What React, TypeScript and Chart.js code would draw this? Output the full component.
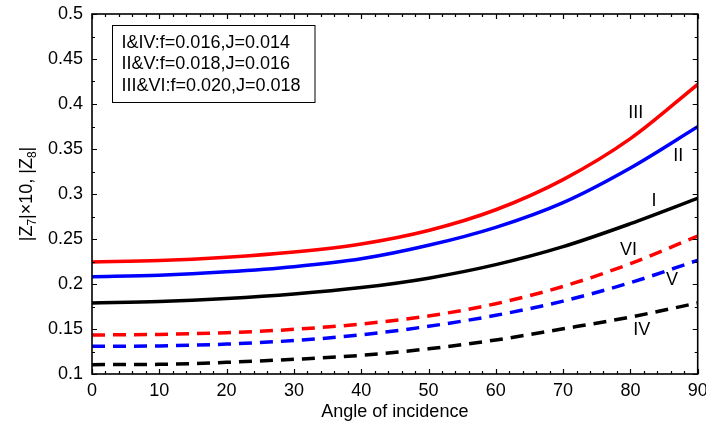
import React, { useEffect, useRef } from "react";
import { Chart, registerables } from "chart.js";

Chart.register(...registerables);

const angles = [0, 10, 20, 30, 40, 50, 60, 70, 80, 90];
const seriesI = [0.179, 0.1805, 0.1838, 0.1888, 0.196, 0.2065, 0.2215, 0.2415, 0.267, 0.2952];
const seriesII = [0.208, 0.2097, 0.2135, 0.2192, 0.228, 0.243, 0.263, 0.2905, 0.329, 0.3748];
const seriesIII = [0.2245, 0.226, 0.2297, 0.2355, 0.2445, 0.2595, 0.2825, 0.316, 0.3615, 0.4218];
const seriesIV = [0.1104, 0.1107, 0.113, 0.1163, 0.1207, 0.128, 0.1378, 0.1502, 0.1633, 0.1789];
const seriesV = [0.1307, 0.1312, 0.1332, 0.1372, 0.1435, 0.153, 0.1652, 0.181, 0.2015, 0.2263];
const seriesVI = [0.1433, 0.144, 0.1459, 0.1496, 0.1555, 0.1645, 0.1781, 0.1973, 0.2226, 0.2533];

const xTitle = "Angle of incidence";
const legendLines = ["I&IV:f=0.016,J=0.014", "II&V:f=0.018,J=0.016", "III&VI:f=0.020,J=0.018"];
const curveLabels = ["III", "II", "I", "VI", "V", "IV"];
const curveLabelX = [80.8, 87.1, 83.5, 79.7, 86.2, 81.7];
const curveLabelY = [0.39, 0.342, 0.292, 0.238, 0.204, 0.149];

const FONT = "'Liberation Sans', Arial, Helvetica, sans-serif";

const toPts = (vals: number[]) => vals.map((v, i) => ({ x: angles[i], y: v }));

const decorPlugin = {
  id: "decor",
  afterDatasetsDraw(chart: any) {
    const { ctx, chartArea: a, scales } = chart;
    const xs = scales.x;
    const ys = scales.y;
    ctx.save();
    ctx.strokeStyle = "#000";
    ctx.lineWidth = 1.2;
    ctx.beginPath();
    const major = 5;
    const minor = 3;
    for (let v = 0; v <= 90.0001; v += 2) {
      const px = Math.round(xs.getPixelForValue(v)) + 0.5;
      const len = Math.abs(v % 10) < 1e-6 ? major : minor;
      ctx.moveTo(px, a.bottom);
      ctx.lineTo(px, a.bottom - len);
      ctx.moveTo(px, a.top);
      ctx.lineTo(px, a.top + len);
    }
    for (let i = 0; i <= 16; i++) {
      const v = 0.1 + i * 0.025;
      const py = Math.round(ys.getPixelForValue(v)) + 0.5;
      const len = i % 2 === 0 ? major : minor;
      ctx.moveTo(a.left, py);
      ctx.lineTo(a.left + len, py);
      ctx.moveTo(a.right, py);
      ctx.lineTo(a.right - len, py);
    }
    ctx.stroke();
    ctx.lineWidth = 1.6;
    ctx.strokeRect(a.left, a.top, a.right - a.left, a.bottom - a.top);

    // curve labels
    ctx.fillStyle = "#000";
    ctx.font = `18px ${FONT}`;
    ctx.textAlign = "center";
    ctx.textBaseline = "middle";
    curveLabels.forEach((t, i) => {
      ctx.fillText(t, xs.getPixelForValue(curveLabelX[i]), ys.getPixelForValue(curveLabelY[i]));
    });

    // legend box
    ctx.fillStyle = "#fff";
    ctx.fillRect(112.5, 25, 202.5, 77.5);
    ctx.lineWidth = 1;
    ctx.strokeStyle = "#000";
    ctx.strokeRect(112.5, 25.5, 202.5, 77);
    ctx.fillStyle = "#000";
    ctx.textAlign = "left";
    ctx.textBaseline = "alphabetic";
    legendLines.forEach((t, i) => {
      ctx.fillText(t, 121.5, 47.7 + i * 21.7);
    });

    // y-axis title with subscripts
    const big = `18px ${FONT}`;
    const small = `12px ${FONT}`;
    const parts: [string, boolean][] = [
      ["|Z", false],
      ["7", true],
      ["|\u00d710, |Z", false],
      ["8", true],
      ["|", false],
    ];
    let total = 0;
    parts.forEach(([t, s]) => {
      ctx.font = s ? small : big;
      total += ctx.measureText(t).width;
    });
    ctx.translate(32, (a.top + a.bottom) / 2);
    ctx.rotate(-Math.PI / 2);
    let cx = -total / 2;
    parts.forEach(([t, s]) => {
      ctx.font = s ? small : big;
      ctx.fillText(t, cx, s ? 4 : 0);
      cx += ctx.measureText(t).width;
    });
    ctx.restore();
  },
};

export default function App() {
  const ref = useRef<HTMLCanvasElement | null>(null);
  useEffect(() => {
    document.body.style.margin = "0";
    if (!ref.current) return;
    const mk = (label: string, vals: number[], color: string, dashed: boolean) => ({
      label,
      data: toPts(vals),
      borderColor: color,
      backgroundColor: color,
      borderWidth: 3.5,
      borderDash: dashed ? [13, 8] : [],
      pointRadius: 0,
      fill: false,
      cubicInterpolationMode: "monotone" as const,
    });
    const chart = new Chart(ref.current, {
      type: "line",
      data: {
        datasets: [
          mk("I", seriesI, "#000000", false),
          mk("II", seriesII, "#0000ff", false),
          mk("III", seriesIII, "#ff0000", false),
          mk("IV", seriesIV, "#000000", true),
          mk("V", seriesV, "#0000ff", true),
          mk("VI", seriesVI, "#ff0000", true),
        ],
      },
      options: {
        responsive: false,
        animation: false,
        layout: { padding: { left: 0, right: 0, top: 14, bottom: 0 } },
        plugins: { legend: { display: false }, tooltip: { enabled: false } },
        scales: {
          x: {
            type: "linear",
            min: 0,
            max: 90,
            ticks: {
              stepSize: 10,
              color: "#000",
              font: { family: FONT, size: 18 },
              padding: 6,
              maxRotation: 0,
            },
            grid: { display: false, drawTicks: false },
            border: { display: false },
            title: {
              display: true,
              text: xTitle,
              color: "#000",
              font: { family: FONT, size: 18 },
              padding: { top: 0, bottom: 1 },
            },
            afterFit: (s: any) => {
              s.height = 50;
              s.paddingLeft = 0;
              s.paddingRight = 8.3;
            },
          },
          y: {
            type: "linear",
            min: 0.1,
            max: 0.5,
            ticks: {
              stepSize: 0.05,
              color: "#000",
              font: { family: FONT, size: 18 },
              padding: 9,
              callback: (v: any) => String(Number(Number(v).toFixed(3))),
            },
            grid: { display: false, drawTicks: false },
            border: { display: false },
            afterFit: (s: any) => {
              s.width = 92;
              s.paddingTop = 0;
              s.paddingBottom = 0;
            },
          },
        },
      },
      plugins: [decorPlugin],
    });
    return () => chart.destroy();
  }, []);
  return (
    <div style={{ width: 706, height: 424 }}>
      <canvas ref={ref} width={706} height={424} style={{ display: "block" }} />
    </div>
  );
}
